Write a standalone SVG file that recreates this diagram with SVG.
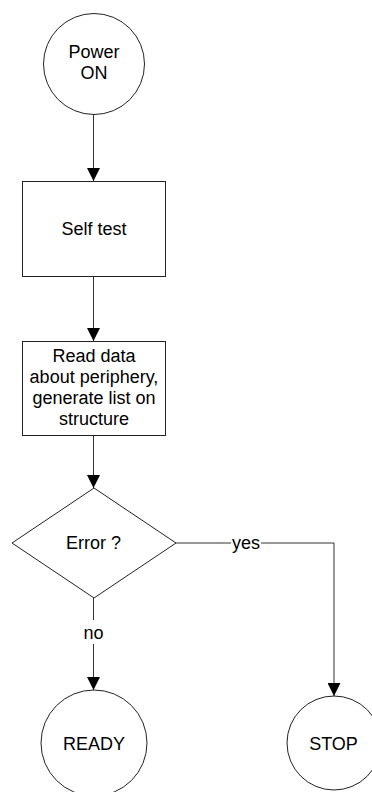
<svg xmlns="http://www.w3.org/2000/svg" width="372" height="792" viewBox="0 0 372 792">
<defs>
<style>
.n{fill:#fff;stroke:#222;stroke-width:1}
.t{font-family:"Liberation Sans",Arial,sans-serif;font-size:18px;fill:#000;text-anchor:middle}
.c{fill:none;stroke:#333;stroke-width:1}
</style>
<marker id="ah" markerWidth="13" markerHeight="13" refX="13" refY="6.5" orient="auto" markerUnits="userSpaceOnUse">
<path d="M0,0 L13,6.5 L0,13 Z" fill="#000"/>
</marker>
</defs>
<rect width="372" height="792" fill="#fff"/>
<g id="connectors">
<path class="c" d="M93.5,113 V181" marker-end="url(#ah)"/>
<path class="c" d="M93.5,276 V341" marker-end="url(#ah)"/>
<path class="c" d="M93.5,436 V488" marker-end="url(#ah)"/>
<path class="c" d="M93.5,598 V620"/>
<path class="c" d="M93.5,644 V690" marker-end="url(#ah)"/>
<path class="c" d="M176,543 H231"/>
<path class="c" d="M261,543 H334 V696" marker-end="url(#ah)"/>
<text class="t" x="246" y="549">yes</text>
<text class="t" x="93.5" y="639">no</text>
</g>
<g id="power-on">
<circle class="n" cx="94" cy="64" r="50.5"/>
<text class="t" x="94" y="58">Power</text>
<text class="t" x="94" y="79">ON</text>
</g>
<g id="self-test">
<rect class="n" x="22.5" y="181.5" width="143" height="95"/>
<text class="t" x="94" y="235">Self test</text>
</g>
<g id="read-data">
<rect class="n" x="22.5" y="341.5" width="143" height="94"/>
<text class="t" x="94" y="362">Read data</text>
<text class="t" x="94" y="383">about periphery,</text>
<text class="t" x="94" y="404">generate list on</text>
<text class="t" x="94" y="425">structure</text>
</g>
<g id="error">
<path class="n" d="M94,488 L176,543 L94,598 L12,543 Z"/>
<text class="t" x="93.5" y="549">Error ?</text>
</g>
<g id="ready">
<circle class="n" cx="94" cy="743" r="53"/>
<text class="t" x="94" y="750">READY</text>
</g>
<g id="stop">
<circle class="n" cx="334" cy="743" r="47"/>
<text class="t" x="333.5" y="750">STOP</text>
</g>
</svg>
